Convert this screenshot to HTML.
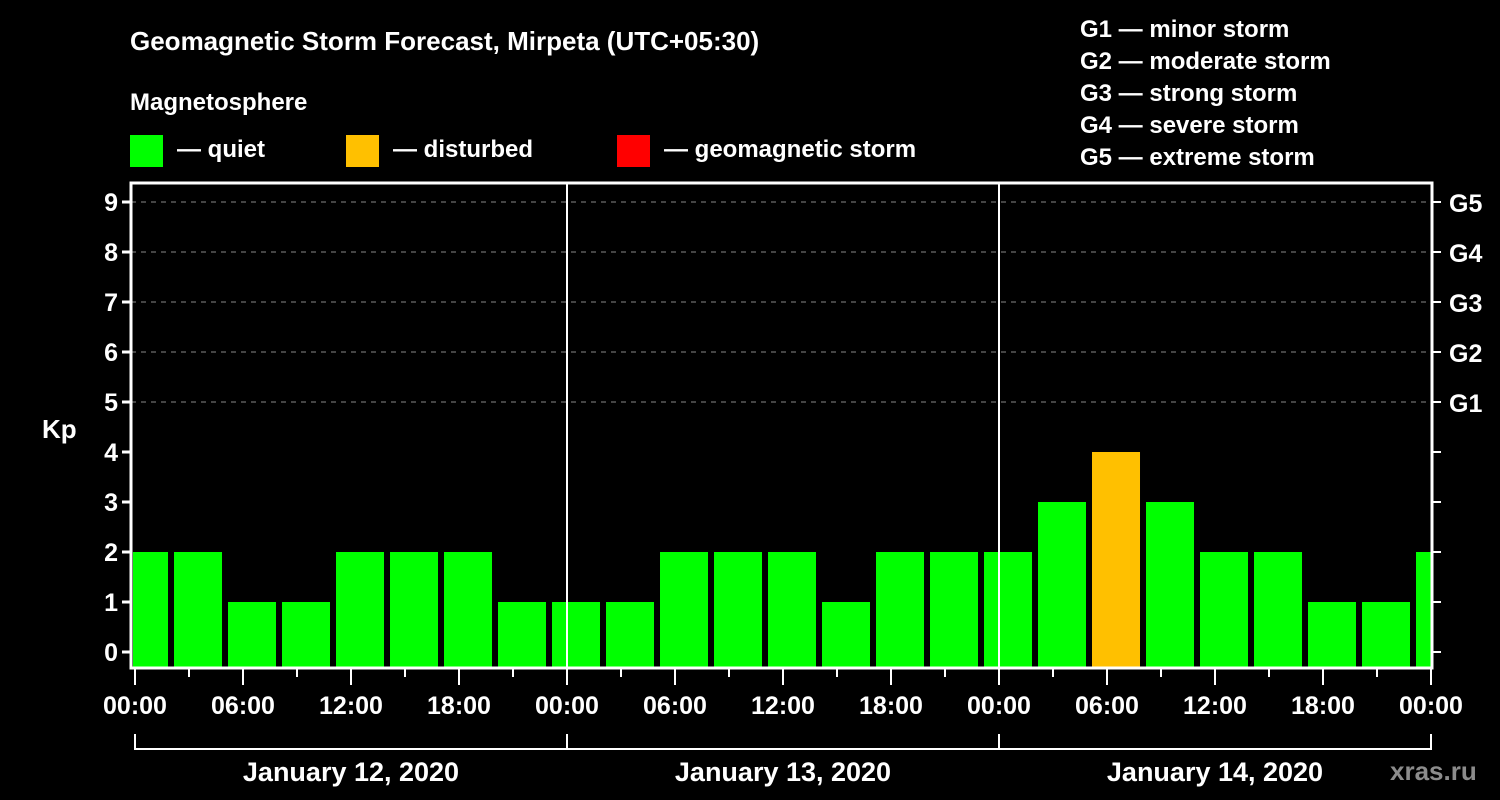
<!DOCTYPE html>
<html><head><meta charset="utf-8"><style>
html,body{margin:0;padding:0;background:#000;}
svg{display:block}
text{font-family:"Liberation Sans",sans-serif;font-weight:bold;fill:#fff}
</style></head><body>
<svg id="chart" width="1500" height="800" viewBox="0 0 1500 800">
<rect width="1500" height="800" fill="#000"/>
<text x="130" y="50" font-size="26">Geomagnetic Storm Forecast, Mirpeta (UTC+05:30)</text>
<text x="130" y="110" font-size="24">Magnetosphere</text>
<g><rect x="130" y="135" width="33" height="32" fill="#00ff00"/><text x="177" y="157" font-size="24">— quiet</text></g>
<g><rect x="346" y="135" width="33" height="32" fill="#ffc000"/><text x="393" y="157" font-size="24">— disturbed</text></g>
<g><rect x="617" y="135" width="33" height="32" fill="#ff0000"/><text x="664" y="157" font-size="24">— geomagnetic storm</text></g>
<g font-size="24">
<text x="1080" y="37">G1 — minor storm</text>
<text x="1080" y="69">G2 — moderate storm</text>
<text x="1080" y="101">G3 — strong storm</text>
<text x="1080" y="133">G4 — severe storm</text>
<text x="1080" y="165">G5 — extreme storm</text>
</g>
<defs><clipPath id="plotclip"><rect x="133" y="183" width="1298" height="484"/></clipPath></defs>
<g id="grid"></g>
<g id="bars" clip-path="url(#plotclip)"></g>
<g id="axes"></g>
<text x="42" y="438" font-size="26">Kp</text>
<text x="1390" y="780" font-size="26" fill="#888" style="fill:#8c8c8c">xras.ru</text>
</svg>
<script>
const kpValues=[2,2,1,1,2,2,2,1,1,1,2,2,2,1,2,2,2,3,4,3,2,2,1,1,2];
const yTicks=[0,1,2,3,4,5,6,7,8,9];
const gLabels=["G1","G2","G3","G4","G5"];
const xTickLabels=["00:00","06:00","12:00","18:00","00:00","06:00","12:00","18:00","00:00","06:00","12:00","18:00","00:00"];
const dayLabels=["January 12, 2020","January 13, 2020","January 14, 2020"];
const NS="http://www.w3.org/2000/svg";
const X0=135,HOURPX=18,Y0=652,KPPX=50,BOTTOM=668,TOP=183,RIGHT=1432,LEFT=131;
function xh(h){return X0+h*HOURPX;}
function yk(v){return Y0-v*KPPX;}
function mk(tag,attrs,parent){const e=document.createElementNS(NS,tag);for(const k in attrs)e.setAttribute(k,attrs[k]);parent.appendChild(e);return e;}
const grid=document.getElementById('grid'),bars=document.getElementById('bars'),axes=document.getElementById('axes');
for(let v=5;v<=9;v++){const l=mk('line',{x1:LEFT,x2:RIGHT,y1:yk(v),y2:yk(v),stroke:'#888','stroke-width':1,'stroke-dasharray':'5,5'},grid);

}
kpValues.forEach((v,i)=>{const x=xh(-0.833+3*i);
const r=mk('rect',{x:x,y:yk(v),width:48,height:BOTTOM-yk(v),fill:v>=5?'#ff0000':(v>=4?'#ffc000':'#00ff00')},bars);

});
// frame
const fr=mk('path',{d:`M${LEFT},${BOTTOM} L${LEFT},${TOP} L${RIGHT},${TOP} L${RIGHT},${BOTTOM} Z`,fill:'none',stroke:'#fff','stroke-width':3},axes);


for(let d=1;d<3;d++){const l=mk('line',{x1:xh(24*d),x2:xh(24*d),y1:TOP,y2:BOTTOM,stroke:'#fff','stroke-width':2},axes);

}
yTicks.forEach(v=>{mk('line',{x1:122,x2:LEFT,y1:yk(v),y2:yk(v),stroke:'#fff','stroke-width':3},axes);
const t=mk('text',{x:118,y:yk(v)+9,'font-size':25,'text-anchor':'end'},axes);t.textContent=v;


if(v<=4||true)mk('line',{x1:RIGHT,x2:1441,y1:yk(v),y2:yk(v),stroke:'#fff','stroke-width':2},axes);});
gLabels.forEach((g,i)=>{const t=mk('text',{x:1449,y:yk(5+i)+10,'font-size':25},axes);t.textContent=g;

});
for(let h=0;h<=72;h+=3){const major=h%6===0;mk('line',{x1:xh(h),x2:xh(h),y1:BOTTOM,y2:major?685:677,stroke:'#fff','stroke-width':2},axes);}
xTickLabels.forEach((s,i)=>{const t=mk('text',{x:xh(6*i),y:714,'font-size':25,'text-anchor':'middle'},axes);t.textContent=s;

});
mk('path',{d:`M${xh(0)},734 L${xh(0)},749 L${xh(72)},749 L${xh(72)},734`,fill:'none',stroke:'#fff','stroke-width':2},axes);
for(let d=1;d<3;d++)mk('line',{x1:xh(24*d),x2:xh(24*d),y1:734,y2:749,stroke:'#fff','stroke-width':2},axes);
dayLabels.forEach((s,i)=>{const t=mk('text',{x:xh(24*i+12),y:781,'font-size':27,'text-anchor':'middle'},axes);t.textContent=s;

});
</script>
</body></html>
